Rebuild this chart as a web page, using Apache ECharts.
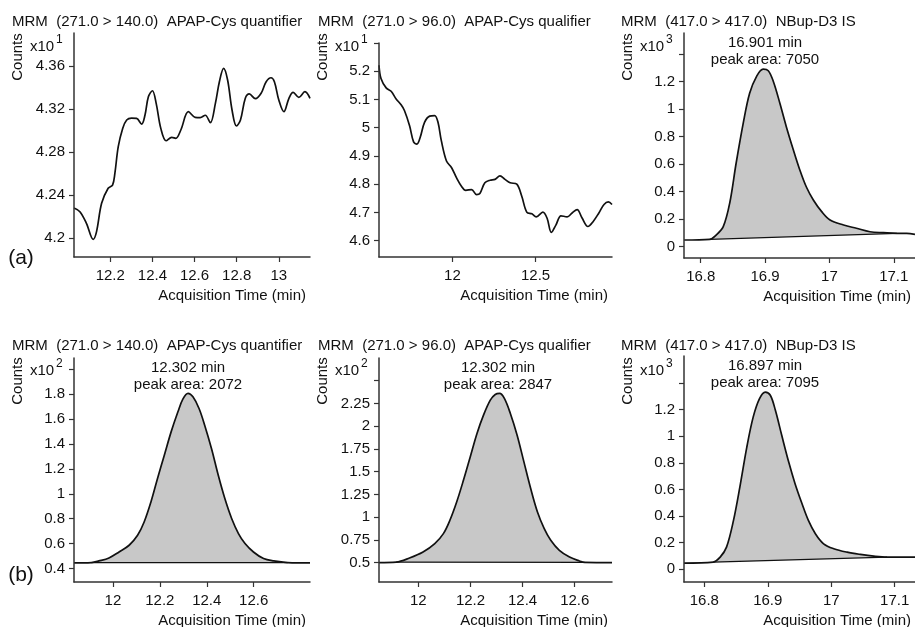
<!DOCTYPE html>
<html>
<head>
<meta charset="utf-8">
<script src="https://cdn.jsdelivr.net/npm/echarts@6/dist/echarts.min.js"></script>
<style>
  html, body { margin: 0; padding: 0; background: #fff; }
  #main { width: 915px; height: 627px; }
</style>
</head>
<body>
<div id="main"></div>
<script>
// panel titles
var titles = [
    'MRM  (271.0 > 140.0)  APAP-Cys quantifier',
    'MRM  (271.0 > 96.0)  APAP-Cys qualifier',
    'MRM  (417.0 > 417.0)  NBup-D3 IS',
    'MRM  (271.0 > 140.0)  APAP-Cys quantifier',
    'MRM  (271.0 > 96.0)  APAP-Cys qualifier',
    'MRM  (417.0 > 417.0)  NBup-D3 IS'
]
var exponents = ['1', '1', '3', '2', '2', '3']
var rowLabels = ['(a)', '(b)']

// (a) quantifier
var t1 = [12.028, 12.056, 12.087, 12.119, 12.135, 12.159, 12.19, 12.211, 12.222, 12.238, 12.259, 12.278, 12.301, 12.325, 12.349, 12.365, 12.381, 12.4, 12.418, 12.44, 12.465, 12.492, 12.511, 12.535, 12.571, 12.603, 12.627, 12.651, 12.675, 12.699, 12.718, 12.738, 12.757, 12.778, 12.799, 12.818, 12.841, 12.86, 12.889, 12.916, 12.94, 12.963, 12.979, 13.0, 13.024, 13.048, 13.068, 13.095, 13.124, 13.148]
var c1 = [4.228, 4.2245, 4.2137, 4.1988, 4.206, 4.2323, 4.2463, 4.2493, 4.2602, 4.285, 4.302, 4.3098, 4.3116, 4.3113, 4.306, 4.3144, 4.3314, 4.337, 4.3253, 4.302, 4.2905, 4.2937, 4.2928, 4.3005, 4.3175, 4.3123, 4.312, 4.3142, 4.3073, 4.3253, 4.3454, 4.3578, 4.347, 4.3191, 4.3042, 4.3098, 4.33, 4.334, 4.3296, 4.3346, 4.3454, 4.3491, 4.3454, 4.3284, 4.3175, 4.33, 4.3355, 4.3309, 4.3361, 4.33]
// (a) qualifier
var t2 = [11.558, 11.57, 11.601, 11.631, 11.661, 11.691, 11.711, 11.742, 11.766, 11.786, 11.806, 11.832, 11.863, 11.893, 11.913, 11.933, 11.964, 11.994, 12.024, 12.054, 12.08, 12.115, 12.145, 12.165, 12.195, 12.226, 12.256, 12.286, 12.316, 12.347, 12.387, 12.417, 12.448, 12.478, 12.504, 12.544, 12.569, 12.595, 12.623, 12.653, 12.69, 12.72, 12.75, 12.78, 12.815, 12.847, 12.881, 12.912, 12.938, 12.96]
var c2 = [5.221, 5.174, 5.141, 5.129, 5.102, 5.081, 5.061, 5.007, 4.95, 4.942, 4.966, 5.019, 5.041, 5.043, 5.019, 4.954, 4.882, 4.859, 4.823, 4.793, 4.778, 4.781, 4.763, 4.767, 4.805, 4.814, 4.817, 4.829, 4.817, 4.805, 4.8, 4.757, 4.7, 4.695, 4.684, 4.701, 4.68, 4.629, 4.656, 4.688, 4.684, 4.698, 4.71, 4.68, 4.65, 4.668, 4.698, 4.728, 4.737, 4.728]
// (a) IS
var t3 = [16.774, 16.814, 16.824, 16.835, 16.845, 16.855, 16.866, 16.876, 16.887, 16.897, 16.905, 16.913, 16.923, 16.933, 16.944, 16.954, 16.964, 16.975, 16.988, 17.001, 17.022, 17.042, 17.063, 17.084, 17.105, 17.12, 17.133]
var c3 = [0.049, 0.054, 0.085, 0.146, 0.316, 0.607, 0.897, 1.116, 1.241, 1.292, 1.28, 1.2, 1.043, 0.873, 0.703, 0.558, 0.436, 0.34, 0.255, 0.194, 0.158, 0.134, 0.109, 0.102, 0.097, 0.097, 0.09]
// (b) quantifier
var t4 = [11.834, 11.908, 11.94, 11.983, 12.026, 12.069, 12.105, 12.133, 12.162, 12.19, 12.219, 12.248, 12.277, 12.298, 12.32, 12.341, 12.367, 12.391, 12.42, 12.449, 12.477, 12.506, 12.535, 12.563, 12.599, 12.642, 12.685, 12.745, 12.84]
var c4 = [0.445, 0.448, 0.461, 0.485, 0.533, 0.587, 0.667, 0.774, 0.935, 1.123, 1.31, 1.497, 1.658, 1.76, 1.806, 1.778, 1.685, 1.551, 1.364, 1.149, 0.962, 0.802, 0.681, 0.601, 0.533, 0.48, 0.461, 0.448, 0.445]
// (b) qualifier
var t5 = [11.849, 11.915, 11.966, 12.018, 12.063, 12.096, 12.121, 12.147, 12.173, 12.199, 12.225, 12.25, 12.276, 12.295, 12.312, 12.33, 12.353, 12.379, 12.405, 12.431, 12.457, 12.483, 12.508, 12.541, 12.58, 12.618, 12.638, 12.743]
var c5 = [0.5, 0.505, 0.55, 0.616, 0.708, 0.818, 0.965, 1.166, 1.405, 1.662, 1.92, 2.121, 2.286, 2.349, 2.36, 2.305, 2.14, 1.901, 1.607, 1.314, 1.056, 0.873, 0.745, 0.634, 0.56, 0.517, 0.502, 0.5]
// (b) IS
var t6 = [16.768, 16.814, 16.825, 16.835, 16.846, 16.856, 16.867, 16.877, 16.887, 16.896, 16.904, 16.912, 16.922, 16.933, 16.943, 16.954, 16.964, 16.975, 16.988, 17.004, 17.025, 17.046, 17.067, 17.088, 17.109, 17.132]
var c6 = [0.047, 0.054, 0.092, 0.167, 0.368, 0.618, 0.919, 1.144, 1.283, 1.332, 1.308, 1.195, 1.007, 0.806, 0.644, 0.493, 0.368, 0.268, 0.192, 0.155, 0.129, 0.112, 0.099, 0.092, 0.092, 0.092]

var times = [t1, t2, t3, t4, t5, t6]
var counts = [c1, c2, c3, c4, c5, c6]

// integrated peaks: [start, end] time and baseline counts
var peakWindows = [null, null, [16.814, 17.105], [11.908, 12.745], [11.915, 12.638], [16.814, 17.088]]
var peakBaselines = [null, null, [0.054, 0.097], [0.448, 0.448], [0.505, 0.502], [0.054, 0.092]]
var peakRT = [null, null, '16.901', '12.302', '12.302', '16.897']
var peakArea = [null, null, '7050', '2072', '2847', '7095']

// axis ranges and ticks
var xRanges = [[12.028, 13.148], [11.558, 12.96], [16.774, 17.133], [11.834, 12.84], [11.849, 12.743], [16.768, 17.132]]
var yRanges = [[4.1824, 4.3907], [4.542, 5.3], [-0.082, 1.554], [0.292, 2.09], [0.286, 2.75], [-0.095, 1.603]]
var xTicks = [
    [12.2, 12.4, 12.6, 12.8, 13],
    [12, 12.5],
    [16.8, 16.9, 17, 17.1],
    [12, 12.2, 12.4, 12.6],
    [12, 12.2, 12.4, 12.6],
    [16.8, 16.9, 17, 17.1]
]
var yTicks = [
    [4.2, 4.24, 4.28, 4.32, 4.36],
    [4.6, 4.7, 4.8, 4.9, 5, 5.1, 5.2, 5.3],
    [0, 0.2, 0.4, 0.6, 0.8, 1, 1.2, 1.4],
    [0.4, 0.6, 0.8, 1, 1.2, 1.4, 1.6, 1.8, 2],
    [0.5, 0.75, 1, 1.25, 1.5, 1.75, 2, 2.25, 2.5],
    [0, 0.2, 0.4, 0.6, 0.8, 1, 1.2, 1.4]
]
var yLabels = [
    [4.2, 4.24, 4.28, 4.32, 4.36],
    [4.6, 4.7, 4.8, 4.9, 5, 5.1, 5.2],
    [0, 0.2, 0.4, 0.6, 0.8, 1, 1.2],
    [0.4, 0.6, 0.8, 1, 1.2, 1.4, 1.6, 1.8],
    [0.5, 0.75, 1, 1.25, 1.5, 1.75, 2, 2.25],
    [0, 0.2, 0.4, 0.6, 0.8, 1, 1.2]
]

// layout of the six plot boxes (px)
var boxes = [
    {left: 74, top: 33, width: 236, height: 224},
    {left: 379, top: 43, width: 233, height: 214},
    {left: 684, top: 33, width: 231, height: 225},
    {left: 74, top: 358, width: 236, height: 224},
    {left: 379, top: 358, width: 233, height: 224},
    {left: 684, top: 356, width: 231, height: 226}
]
var colX = [12, 318, 621]
var rowY = [22, 346]
// where the peak notes sit (centre x, first line y)
var notePos = [null, null, [765, 43], [188, 368], [498, 368], [765, 366]]

var font = '"Liberation Sans", Arial, sans-serif'
var ink = '#111'

function fmt(v) {
    return String(+(+v).toFixed(3))
}

var grids = [], xAxes = [], yAxes = [], series = [], texts = []

for (var i = 0; i < 6; i++) {
    var b = boxes[i]
    var col = i % 3, row = Math.floor(i / 3)
    grids.push({left: b.left, top: b.top, width: b.width, height: b.height, containLabel: false})
    xAxes.push({
        type: 'value', gridIndex: i, min: xRanges[i][0], max: xRanges[i][1], z: 10,
        axisLine: {show: true, onZero: false, lineStyle: {color: '#333', width: 1.5}},
        axisTick: {show: true, length: 5, customValues: xTicks[i], lineStyle: {color: '#333', width: 1.2}},
        axisLabel: {customValues: xTicks[i], formatter: fmt, margin: 11, color: ink, fontSize: 15, fontFamily: font},
        splitLine: {show: false}
    })
    yAxes.push({
        type: 'value', gridIndex: i, min: yRanges[i][0], max: yRanges[i][1], z: 10,
        axisLine: {show: true, onZero: false, lineStyle: {color: '#333', width: 1.5}},
        axisTick: {show: true, length: 5, customValues: yTicks[i], lineStyle: {color: '#333', width: 1.2}},
        axisLabel: {customValues: yLabels[i], formatter: fmt, margin: 9, color: ink, fontSize: 15, fontFamily: font},
        splitLine: {show: false}
    })

    var pts = times[i].map(function (t, k) { return [t, counts[i][k]] })

    if (peakWindows[i]) {
        var w = peakWindows[i]
        var first = -1, last = -1
        pts.forEach(function (p, k) {
            if (p[0] >= w[0] - 1e-9 && p[0] <= w[1] + 1e-9) {
                if (first < 0) first = k
                last = k
            }
        })
        var seg = pts.slice(first, last + 1)
        var b0 = [w[0], peakBaselines[i][0]], b1 = [w[1], peakBaselines[i][1]]
        // grey peak area
        series.push({
            type: 'line', xAxisIndex: i, yAxisIndex: i, data: seg, smooth: 0.35,
            symbol: 'none', z: 1, silent: true,
            lineStyle: {width: 0},
            areaStyle: {color: '#c8c8c8', opacity: 1, origin: 'start'}
        })
        // white under the baseline
        series.push({
            type: 'line', xAxisIndex: i, yAxisIndex: i, z: 2, silent: true,
            data: [pts[Math.max(first - 1, 0)], b0, b1, pts[Math.min(last + 1, pts.length - 1)]],
            symbol: 'none',
            lineStyle: {width: 0},
            areaStyle: {color: '#fff', opacity: 1, origin: 'start'}
        })
        // baseline
        series.push({
            type: 'line', xAxisIndex: i, yAxisIndex: i, z: 3, silent: true,
            data: [b0, b1], symbol: 'none',
            lineStyle: {color: ink, width: 1.3}
        })
        texts.push({
            type: 'text', x: notePos[i][0], y: notePos[i][1], z: 20,
            style: {text: peakRT[i] + ' min', font: '15px ' + font, fill: ink, textAlign: 'center', textVerticalAlign: 'middle'}
        })
        texts.push({
            type: 'text', x: notePos[i][0], y: notePos[i][1] + 17, z: 20,
            style: {text: 'peak area: ' + peakArea[i], font: '15px ' + font, fill: ink, textAlign: 'center', textVerticalAlign: 'middle'}
        })
    }

    series.push({
        type: 'line', xAxisIndex: i, yAxisIndex: i, data: pts, smooth: 0.35,
        symbol: 'none', z: 4, silent: true,
        lineStyle: {color: ink, width: 1.7}
    })

    // title, counts label, exponent and x-axis name
    texts.push({
        type: 'text', x: colX[col], y: rowY[row], z: 20,
        style: {text: titles[i], font: '15px ' + font, fill: ink, textVerticalAlign: 'middle'}
    })
    texts.push({
        type: 'text', x: b.left - 56, y: rowY[row] + 35, rotation: Math.PI / 2, z: 20,
        style: {text: 'Counts', font: '15px ' + font, fill: ink, textAlign: 'center', textVerticalAlign: 'middle'}
    })
    texts.push({
        type: 'text', x: b.left - 44, y: rowY[row] + 25, z: 20,
        style: {text: 'x10', font: '15px ' + font, fill: ink, textVerticalAlign: 'middle'}
    })
    texts.push({
        type: 'text', x: b.left - 18, y: rowY[row] + 18, z: 20,
        style: {text: exponents[i], font: '12px ' + font, fill: ink, textVerticalAlign: 'middle'}
    })
    texts.push({
        type: 'text', x: b.left + b.width - 4, y: b.top + b.height + 39, z: 20,
        style: {text: 'Acquisition Time (min)', font: '15px ' + font, fill: ink, textAlign: 'right', textVerticalAlign: 'middle'}
    })
}

texts.push({type: 'text', x: 21, y: 258, z: 20,
    style: {text: rowLabels[0], font: '21px ' + font, fill: ink, textAlign: 'center', textVerticalAlign: 'middle'}})
texts.push({type: 'text', x: 21, y: 575, z: 20,
    style: {text: rowLabels[1], font: '21px ' + font, fill: ink, textAlign: 'center', textVerticalAlign: 'middle'}})

var option = {
    backgroundColor: '#fff',
    animation: false,
    grid: grids,
    xAxis: xAxes,
    yAxis: yAxes,
    series: series,
    graphic: texts
}

var chart = echarts.init(document.getElementById('main'))
chart.setOption(option)
</script>
</body>
</html>
